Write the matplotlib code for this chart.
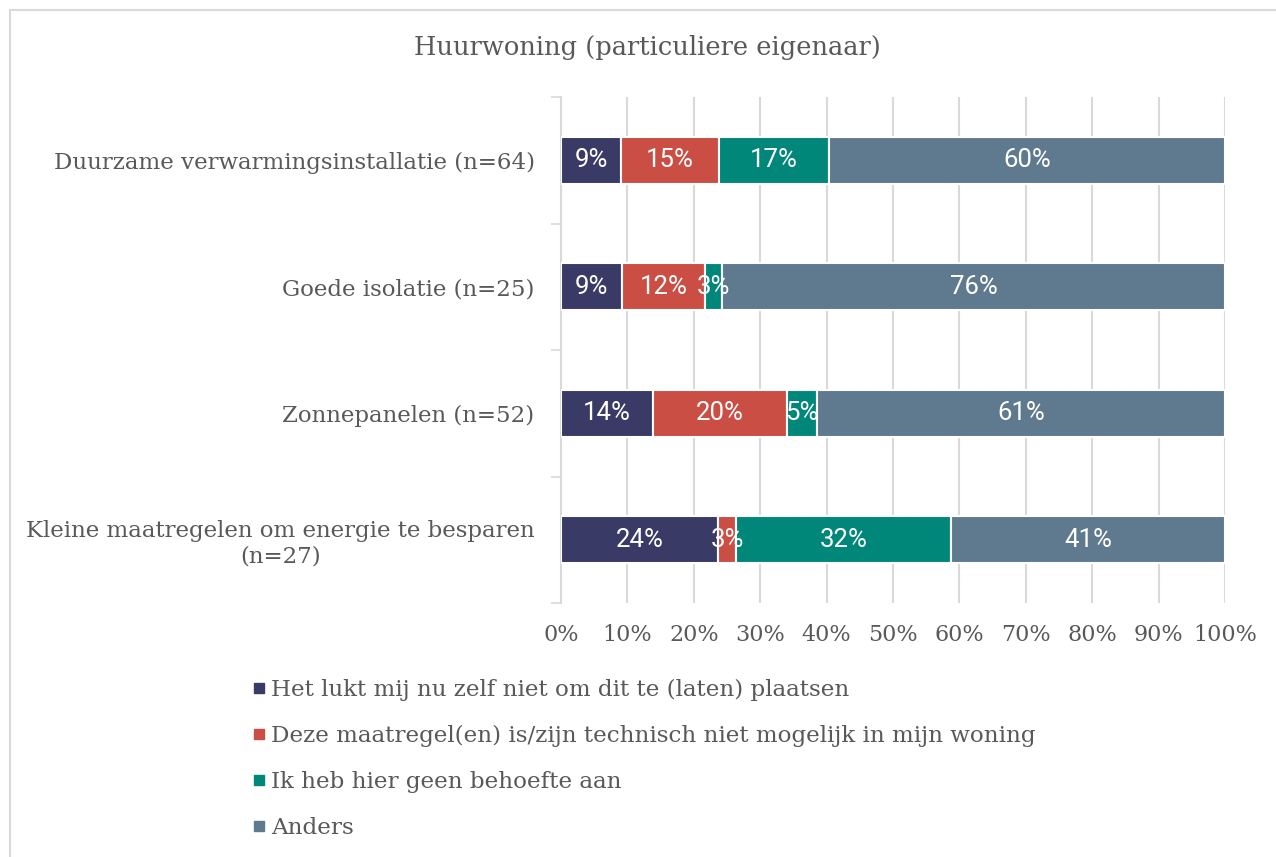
import matplotlib
matplotlib.use("Agg")
from matplotlib import pyplot as plt
from matplotlib.lines import Line2D
from matplotlib.patches import Rectangle
import numpy as np

# Data (percentages)
categories = ["Duurzame verwarmingsinstallatie (n=64)",
              "Goede isolatie (n=25)",
              "Zonnepanelen (n=52)",
              "Kleine maatregelen om energie te besparen\n(n=27)"]
series_names = ["Het lukt mij nu zelf niet om dit te (laten) plaatsen",
                "Deze maatregel(en) is/zijn technisch niet mogelijk in mijn woning",
                "Ik heb hier geen behoefte aan",
                "Anders"]
niet_zelf = [9.1, 9.2, 13.9, 23.7]
niet_mogelijk = [14.7, 12.5, 20.1, 2.7]
geen_behoefte = [16.6, 2.6, 4.6, 32.3]
anders = [59.6, 75.7, 61.4, 41.3]
labels_niet_zelf = ["9%", "9%", "14%", "24%"]
labels_niet_mogelijk = ["15%", "12%", "20%", "3%"]
labels_geen_behoefte = ["17%", "3%", "5%", "32%"]
labels_anders = ["60%", "76%", "61%", "41%"]

colors = ["#393a66", "#cb4e44", "#00877a", "#5f7a8f"]
grey_text = "#595959"
grid_grey = "#d9d9d9"
serif = "DejaVu Serif"

fig = plt.figure(figsize=(12.76, 8.57), dpi=100)
ax = fig.add_axes([561 / 1276, 1 - 603 / 857, (1225 - 561) / 1276, (603 - 97) / 857])

y = np.arange(len(categories))
left = np.zeros(len(categories))
all_series = [niet_zelf, niet_mogelijk, geen_behoefte, anders]
all_labels = [labels_niet_zelf, labels_niet_mogelijk, labels_geen_behoefte, labels_anders]
for vals, labs, col, name in zip(all_series, all_labels, colors, series_names):
    bars = ax.barh(y, vals, left=left, height=0.37, color=col, edgecolor="white",
                   linewidth=1.5, label=name, zorder=3)
    ax.bar_label(bars, labels=labs, label_type="center", color="white",
                 fontsize=18.5, family="Roboto", zorder=4)
    left += np.array(vals)

ax.set_xlim(0, 100)
ax.set_ylim(len(categories) - 0.5, -0.5)
ax.set_xticks(np.arange(0, 101, 10))
ax.set_xticklabels([f"{v}%" for v in range(0, 101, 10)], family=serif,
                   fontsize=16, color=grey_text)
ax.tick_params(axis="x", length=0, pad=15)
ax.set_yticks(y)
ax.set_yticklabels(categories, family=serif, fontsize=16.5, color=grey_text,
                   multialignment="center")
ax.tick_params(axis="y", which="major", length=0, pad=19)
ax.set_yticks(np.arange(-0.5, len(categories), 1), minor=True)
ax.tick_params(axis="y", which="minor", length=7, color=grid_grey, width=1.2)
ax.grid(axis="x", color=grid_grey, linewidth=1.5, zorder=0)
for side in ["top", "right", "bottom"]:
    ax.spines[side].set_visible(False)
ax.spines["left"].set_color(grid_grey)
ax.spines["left"].set_linewidth(1.5)

fig.text(647 / 1276, 1 - 47 / 857, "Huurwoning (particuliere eigenaar)",
         ha="center", va="center", family=serif, fontsize=18.5, color=grey_text)

handles = [Line2D([], [], marker="s", linestyle="", markersize=7, color=c) for c in colors]
fig.legend(handles, series_names, loc="upper left",
           bbox_to_anchor=(238 / 1276, 1 - 670 / 857), frameon=False,
           prop={"family": serif, "size": 16.6}, labelcolor=grey_text,
           handletextpad=0.05, labelspacing=1.04, handlelength=1.0,
           borderaxespad=0)

# chart border (only top and left visible in the crop)
fig.patches.append(Rectangle((10 / 1276, -0.1), 1.2, 1.1 - 10 / 857, fill=False,
                             edgecolor=grid_grey, linewidth=1.5,
                             transform=fig.transFigure, figure=fig))

fig.savefig("out.png", dpi=100)
